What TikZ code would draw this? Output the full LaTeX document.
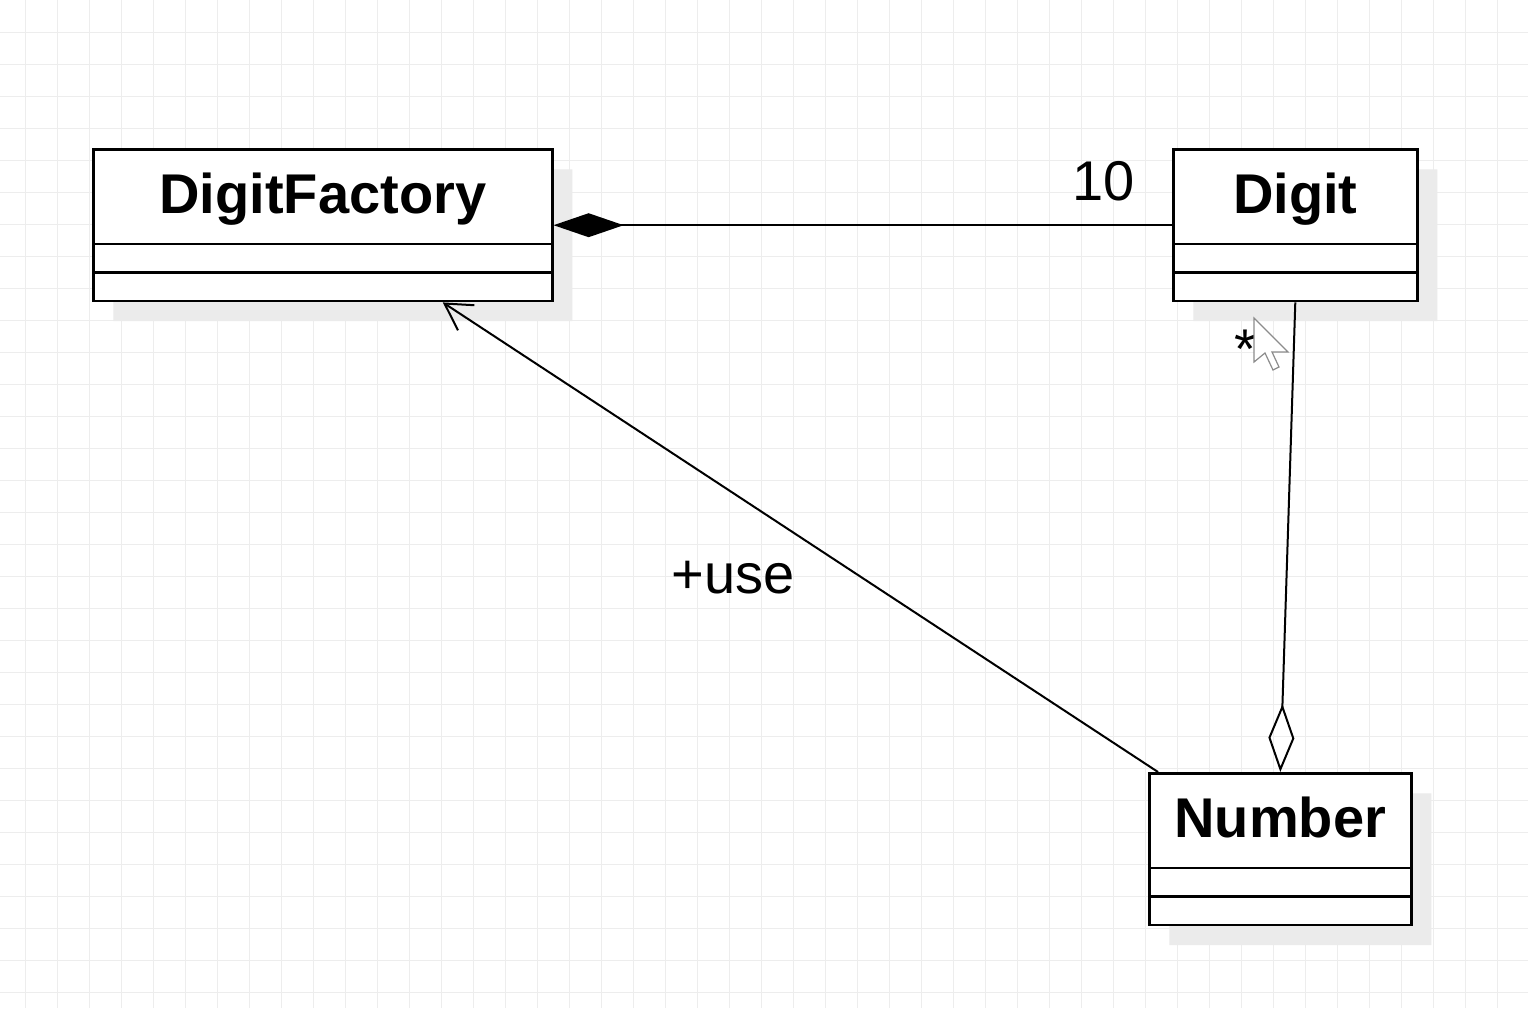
\documentclass[tikz,border=0pt]{standalone}
\usepackage{fontspec}
\setmainfont{Liberation Sans}
\usetikzlibrary{shapes.multipart, arrows.meta, shadows}

\begin{document}
\begin{tikzpicture}[x=0.5pt, y=-0.5pt]

\tikzset{class/.style = {rectangle split, rectangle split parts=3, draw, line width=1.3pt, fill=white, anchor=north west, inner xsep=0pt, inner ysep=0pt, rectangle split empty part height=13pt, rectangle split empty part depth=0pt, rectangle split ignore empty parts=false, font=\bfseries\fontsize{28}{28}\selectfont, drop shadow={shadow xshift=10pt, shadow yshift=-10pt, fill=black!8, opacity=1, draw=none}}}
\tikzset{edge/.style = {line width=1pt}}
\tikzset{tag/.style = {font=\fontsize{28}{28}\selectfont}}
\tikzset{gridline/.style = {draw=black!7, line width=0.5pt}}

%background
\fill[white] (0,0) rectangle (1528,1008);
\useasboundingbox (0,0) rectangle (1528,1008);
\foreach \gx in {25,57,...,1528} \draw[gridline] (\gx,0) -- (\gx,1008);
\foreach \gy in {32,64,...,1008} \draw[gridline] (0,\gy) -- (1528,\gy);

%classes
\node[class, minimum width=229.5pt] (factory) at (92,148) {\rule[-14.5pt]{0pt}{46pt}DigitFactory\nodepart{two}\nodepart{three}};
\node[class, minimum width=122pt] (digit) at (1172,148) {\rule[-14.5pt]{0pt}{46pt}Digit\nodepart{two}\nodepart{three}};
\node[class, minimum width=131pt] (number) at (1148,772) {\rule[-14.5pt]{0pt}{46pt}Number\nodepart{two}\nodepart{three}};

%edges
\draw [edge, {Diamond[length=35pt, width=12pt]}-] (factory.east) -- (digit.west) node [pos=0.89, above=8pt, tag] {10};
\draw [edge, -{Diamond[open, length=34pt, width=13pt]}] (digit.south) -- (number.north) node [pos=0.1, left=15pt, tag] {*};
\draw [edge, -{Straight Barb[length=13pt, width=15pt]}] ([xshift=5pt]number.north west) -- ([xshift=60pt]factory.south) node [midway, xshift=-33.75pt, yshift=-20pt, tag] {+use};

%cursor
\filldraw [shift={(1254,318)}, fill=white, draw=black!45, line width=0.6pt] (0,0) -- (0,44) -- (11,35) -- (19,52) -- (25,49) -- (18,34) -- (34,34) -- cycle;

\end{tikzpicture}
\end{document}
